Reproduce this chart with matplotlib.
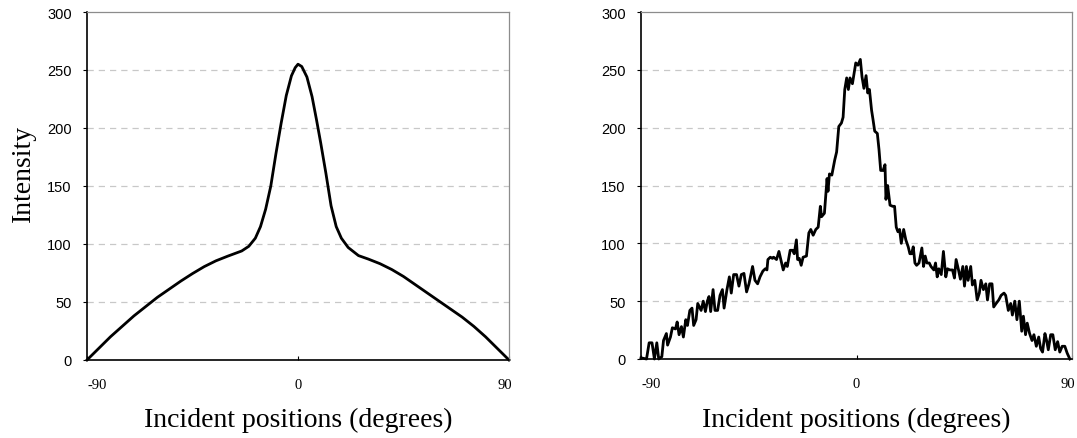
import matplotlib
matplotlib.use("Agg")
import matplotlib.pyplot as plt
import matplotlib.transforms as mtransforms

# left panel: smooth profile
left_x = [-90, -85, -80, -75, -70, -65, -60, -55, -50, -45, -40, -35, -30, -26,
          -24, -21, -18.2, -16, -13.8, -11.6, -9.4, -7.2, -5, -2.8, -1.2, 0,
          1.6, 3.8, 6, 7.9, 9.7, 11.9, 14.1, 16.3, 18.5, 21.4, 25.8,
          30, 35, 40, 45, 50, 55, 60, 65, 70, 75, 80, 85, 90]
left_y = [0, 10, 20, 29, 38, 46, 54, 61, 68, 74.5, 80.5, 85.5, 89.5, 92.5,
          94, 98, 105, 115, 130, 150, 178, 204, 228, 245, 252, 255,
          253, 244, 227, 207, 187, 161, 133, 115, 105, 97, 90,
          87, 83, 78, 72, 65, 58, 51, 44, 37, 29, 20, 10, 0]

# right panel: noisy profile (traced)
right_x = [-90.0, -87.7, -86.6, -85.4, -84.4, -83.4, -82.6, -81.3, -80.6, -79.4,
           -78.9, -77.7, -76.9, -75.6, -74.9, -74.1, -73.1, -72.3, -71.3, -70.6,
           -69.6, -68.7, -68.0, -67.0, -66.3, -64.9, -64.0, -63.1, -62.3, -61.6,
           -60.9, -59.9, -59.1, -58.0, -57.0, -56.0, -55.3, -54.1, -53.1, -52.3,
           -51.3, -50.1, -49.1, -48.1, -47.0, -45.9, -44.9, -43.4, -42.4, -41.3,
           -40.3, -39.1, -38.1, -37.4, -37.0, -36.0, -35.1, -34.6, -33.4, -32.4,
           -31.6, -30.6, -29.6, -28.9, -27.7, -26.7, -26.0, -25.1, -24.6, -23.9,
           -23.1, -22.3, -20.9, -19.9, -19.1, -18.1, -17.0, -16.0, -15.1, -14.6,
           -13.4, -12.3, -11.9, -11.3, -10.3, -9.1, -8.3, -7.4, -6.3, -5.6,
           -4.9, -4.1, -3.4, -2.7, -1.7, -0.9, -0.3, 0.6, 1.6, 2.3,
           3.1, 4.0, 4.7, 5.4, 6.3, 6.9, 7.6, 8.7, 9.4, 10.1,
           11.1, 11.9, 12.3, 13.0, 14.0, 15.1, 15.9, 16.6, 17.3, 18.0,
           18.7, 19.7, 20.6, 21.6, 22.3, 23.0, 23.7, 24.4, 25.1, 26.1,
           27.3, 28.0, 28.7, 29.4, 30.4, 31.1, 32.3, 33.0, 33.7, 34.4,
           35.4, 36.3, 37.3, 38.0, 39.0, 40.1, 40.9, 41.6, 42.6, 43.4,
           44.4, 45.1, 45.9, 46.6, 47.7, 48.4, 49.4, 50.4, 51.3, 52.0,
           53.0, 54.0, 54.7, 55.6, 56.6, 57.3, 58.3, 59.4, 60.4, 61.6,
           62.3, 63.4, 64.4, 65.1, 66.1, 67.0, 68.0, 69.0, 69.7, 70.6,
           71.3, 72.3, 73.3, 74.1, 75.1, 76.1, 76.9, 77.7, 78.7, 79.4,
           80.1, 81.1, 82.0, 83.0, 84.0, 84.9, 85.9, 87.0, 88.0, 89.1]
right_y = [1, 0, 14, 14, 0, 14, 0, 2, 16, 22,
           12, 19, 27, 26, 32, 21, 28, 19, 34, 29,
           42, 44, 29, 34, 48, 42, 50, 41, 50, 54,
           41, 60, 42, 42, 55, 60, 44, 60, 71, 57,
           73, 73, 63, 73, 74, 58, 65, 80, 68, 65,
           71, 76, 78, 77, 86, 88, 87, 88, 86, 93,
           86, 77, 83, 80, 94, 94, 91, 103, 86, 87,
           81, 88, 89, 109, 112, 107, 112, 114, 132, 123,
           126, 156, 145, 160, 159, 172, 179, 201, 204, 209,
           233, 243, 233, 243, 238, 248, 256, 254, 259, 244,
           234, 245, 230, 233, 215, 207, 197, 195, 181, 163,
           163, 168, 138, 150, 133, 132, 132, 114, 110, 112,
           100, 112, 103, 97, 91, 91, 97, 83, 81, 83,
           96, 80, 89, 83, 83, 80, 77, 83, 71, 78,
           73, 93, 71, 78, 77, 77, 70, 86, 77, 69,
           80, 63, 80, 68, 80, 64, 68, 51, 57, 68,
           60, 65, 51, 65, 65, 45, 48, 51, 55, 57,
           55, 42, 48, 38, 50, 34, 50, 24, 37, 21,
           31, 22, 16, 21, 11, 19, 9, 6, 22, 16,
           8, 21, 21, 8, 15, 6, 11, 11, 5, 0]

x_ticks = [-90, 0, 90]
y_ticks = [0, 50, 100, 150, 200, 250, 300]
x_label = "Incident positions (degrees)"
y_label = "Intensity"

SERIF = "Liberation Serif"
SANS = "Liberation Sans"

W, H = 1077, 439
fig = plt.figure(figsize=(W / 100, H / 100), dpi=100)


def style_axes(ax, bottom_px):
    ax.set_xlim(-90, 90)
    ax.set_ylim(0, 300)
    ax.set_xticks(x_ticks)
    ax.set_xticklabels([str(t) for t in x_ticks], fontfamily=SERIF, fontsize=10.5)
    ax.set_yticks(y_ticks)
    ax.set_yticklabels([str(t) for t in y_ticks], fontfamily=SANS, fontsize=10.5)
    ax.tick_params(axis="x", direction="in", length=3, width=0.8, pad=13)
    ax.tick_params(axis="y", direction="out", length=3, width=0.8, pad=8)
    labels = ax.get_xticklabels()
    # the -90 label sits with its left edge on the spine, 90 a little inside
    labels[0].set_horizontalalignment("left")
    labels[-1].set_transform(labels[-1].get_transform()
                             + mtransforms.ScaledTranslation(-0.045, 0, fig.dpi_scale_trans))
    for yv in y_ticks[1:-1]:
        ax.axhline(yv, color="#c8c8c8", lw=0.9, ls=(0, (5, 4)), zorder=0)
    for s in ("left", "bottom"):
        ax.spines[s].set_color("black")
        ax.spines[s].set_linewidth(1.2)
    for s in ("top", "right"):
        ax.spines[s].set_color("#8c8c8c")
        ax.spines[s].set_linewidth(0.9)
    ax.set_xlabel(x_label, fontfamily=SERIF, fontsize=20)
    ax.xaxis.label.set_va("baseline")
    ax.xaxis.set_label_coords(0.5, (12 - bottom_px) / ax.bbox.height)


ax1 = fig.add_axes([87 / W, 78 / H, 422 / W, 348 / H])
ax1.plot(left_x, left_y, color="black", lw=2.0, clip_on=False)
style_axes(ax1, 78)

ax2 = fig.add_axes([641 / W, 79 / H, 431 / W, 347 / H])
ax2.plot(right_x, right_y, color="black", lw=2.0, clip_on=False)
style_axes(ax2, 79)

fig.text(29.5 / W, (H - 173) / H, y_label, rotation=90, rotation_mode="anchor",
         ha="center", va="baseline", fontfamily=SERIF, fontsize=20)

fig.savefig("out.png", dpi=100)
